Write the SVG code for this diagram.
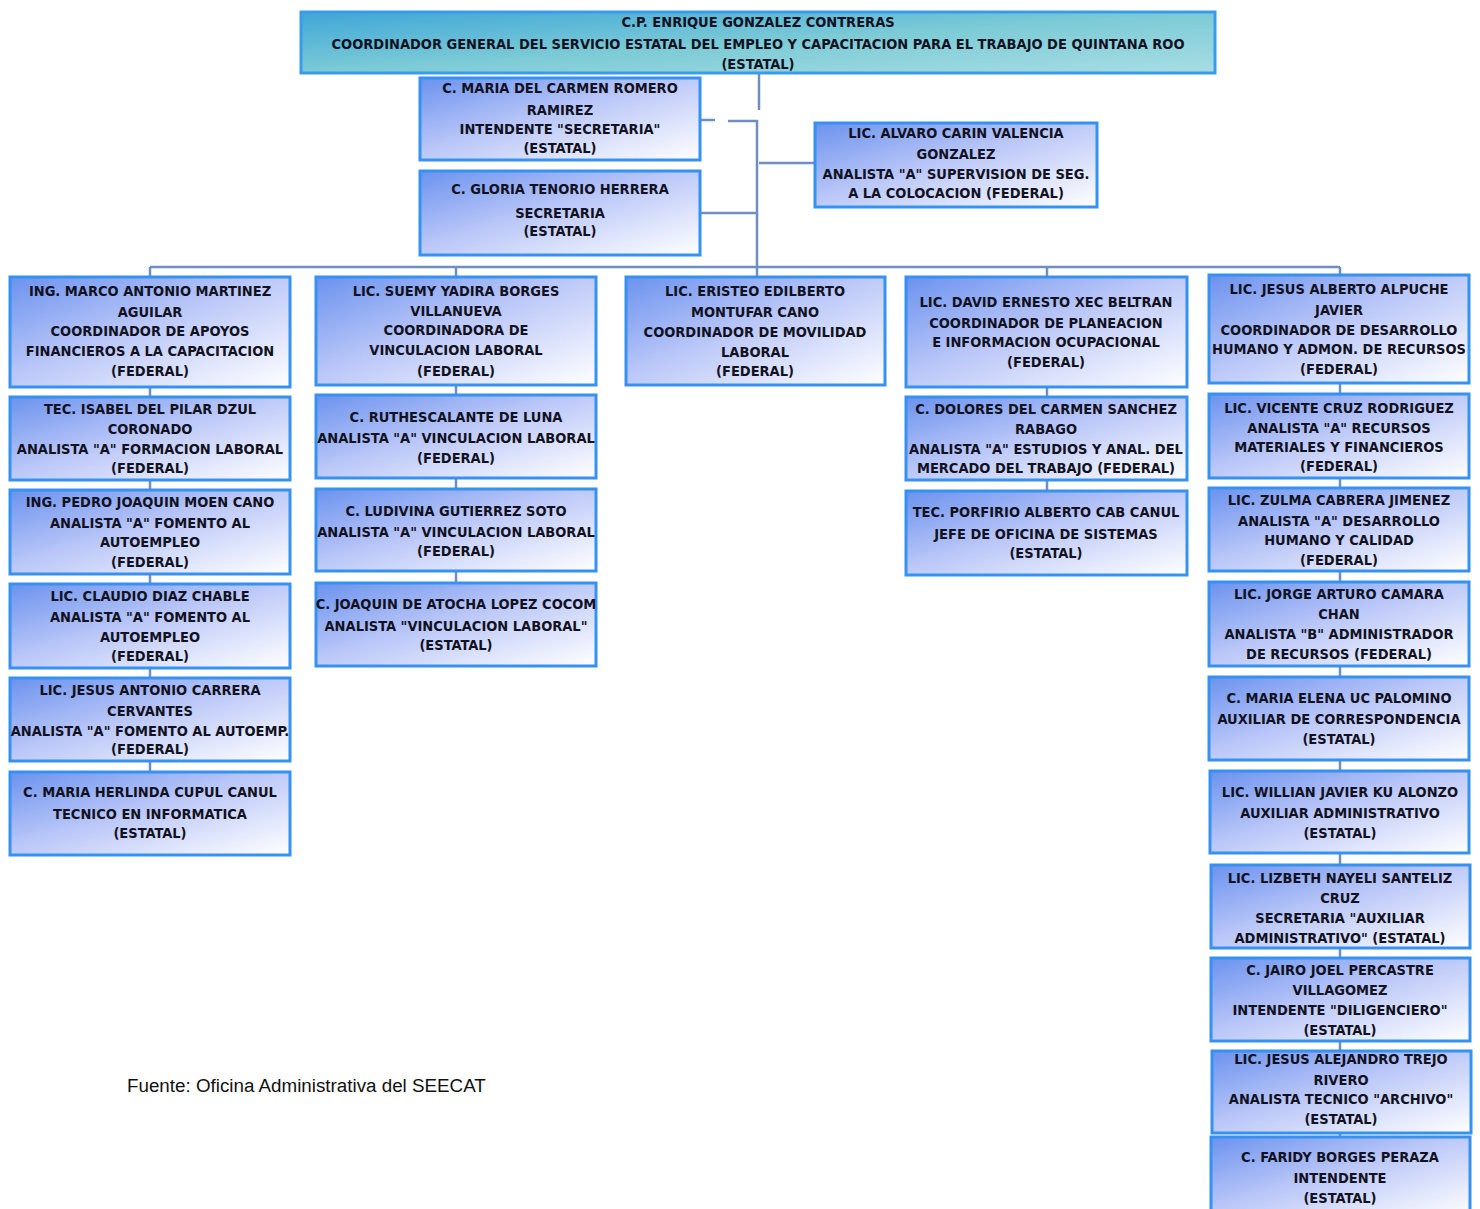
<svg xmlns="http://www.w3.org/2000/svg" width="1480" height="1209" viewBox="0 0 1480 1209">
<defs>
<linearGradient id="gb" x1="0" y1="0" x2="1" y2="1">
<stop offset="0" stop-color="#6b92ee"/>
<stop offset="0.45" stop-color="#b9c6f8"/>
<stop offset="1" stop-color="#ffffff"/>
</linearGradient>
<linearGradient id="gt" x1="0" y1="0" x2="1" y2="1">
<stop offset="0" stop-color="#3fa6d8"/>
<stop offset="0.5" stop-color="#7ccbd6"/>
<stop offset="1" stop-color="#a8dde4"/>
</linearGradient>
<style>
.box{fill:url(#gb);stroke:#3592f2;stroke-width:3}
.top{fill:url(#gt);stroke:#3a9be8;stroke-width:3}
.t{font-family:"Liberation Sans Narrow","DejaVu Sans Condensed","DejaVu Sans",sans-serif;font-weight:bold;font-size:14.5px;fill:#111122;text-anchor:middle}
.c{stroke:#6f8fc2;stroke-width:2.5;fill:none}
.src{font-family:"Liberation Sans",Arial,sans-serif;font-size:18.8px;fill:#111}
</style>
</defs>
<rect width="1480" height="1209" fill="#fff"/>
<g id="connectors">
<path class="c" d="M759 73V110M757 120V267M700 120H715M728 121H758M759 163H815M700 213H757"/>
<path class="c" d="M150 267H1340M150 267V277M456 267V277M757 267V277M1047 267V277M1340 267V275"/>
<path class="c" d="M150 387V397M150 480V490M150 574V584M150 668V678M150 761V772"/>
<path class="c" d="M456 385V395M456 478V489M456 571V583"/>
<path class="c" d="M1047 387V397M1047 480V491"/>
<path class="c" d="M1340 383V394M1340 478V488M1340 571V582M1340 666V677M1340 760V771M1340 853V865M1340 948V958M1340 1041V1050M1340 1133V1136"/>
</g>
<g id="n0"><rect class="top" x="301" y="12" width="914" height="61"/>
<text class="t"><tspan x="758" y="27">C.P. ENRIQUE GONZALEZ CONTRERAS</tspan><tspan x="758" y="49">COORDINADOR GENERAL DEL SERVICIO ESTATAL DEL EMPLEO Y CAPACITACION PARA EL TRABAJO DE QUINTANA ROO</tspan><tspan x="758" y="69">(ESTATAL)</tspan></text></g>
<g id="n1"><rect class="box" x="420" y="78" width="280" height="82"/>
<text class="t"><tspan x="560" y="93">C. MARIA DEL CARMEN ROMERO</tspan><tspan x="560" y="115">RAMIREZ</tspan><tspan x="560" y="134">INTENDENTE "SECRETARIA"</tspan><tspan x="560" y="153">(ESTATAL)</tspan></text></g>
<g id="n2"><rect class="box" x="420" y="171" width="280" height="84"/>
<text class="t"><tspan x="560" y="194">C. GLORIA TENORIO HERRERA</tspan><tspan x="560" y="218">SECRETARIA</tspan><tspan x="560" y="236">(ESTATAL)</tspan></text></g>
<g id="n3"><rect class="box" x="815" y="123" width="282" height="84"/>
<text class="t"><tspan x="956" y="138">LIC. ALVARO CARIN VALENCIA</tspan><tspan x="956" y="159">GONZALEZ</tspan><tspan x="956" y="179">ANALISTA "A" SUPERVISION DE SEG.</tspan><tspan x="956" y="198">A LA COLOCACION (FEDERAL)</tspan></text></g>
<g id="n4"><rect class="box" x="10" y="277" width="280" height="110"/>
<text class="t"><tspan x="150" y="296">ING. MARCO ANTONIO MARTINEZ</tspan><tspan x="150" y="317">AGUILAR</tspan><tspan x="150" y="336">COORDINADOR DE APOYOS</tspan><tspan x="150" y="356">FINANCIEROS A LA CAPACITACION</tspan><tspan x="150" y="376">(FEDERAL)</tspan></text></g>
<g id="n5"><rect class="box" x="10" y="397" width="280" height="83"/>
<text class="t"><tspan x="150" y="414">TEC. ISABEL DEL PILAR DZUL</tspan><tspan x="150" y="434">CORONADO</tspan><tspan x="150" y="454">ANALISTA "A" FORMACION LABORAL</tspan><tspan x="150" y="473">(FEDERAL)</tspan></text></g>
<g id="n6"><rect class="box" x="10" y="490" width="280" height="84"/>
<text class="t"><tspan x="150" y="507">ING. PEDRO JOAQUIN MOEN CANO</tspan><tspan x="150" y="528">ANALISTA "A" FOMENTO AL</tspan><tspan x="150" y="547">AUTOEMPLEO</tspan><tspan x="150" y="567">(FEDERAL)</tspan></text></g>
<g id="n7"><rect class="box" x="10" y="584" width="280" height="84"/>
<text class="t"><tspan x="150" y="601">LIC. CLAUDIO DIAZ CHABLE</tspan><tspan x="150" y="622">ANALISTA "A" FOMENTO AL</tspan><tspan x="150" y="642">AUTOEMPLEO</tspan><tspan x="150" y="661">(FEDERAL)</tspan></text></g>
<g id="n8"><rect class="box" x="10" y="678" width="280" height="83"/>
<text class="t"><tspan x="150" y="695">LIC. JESUS ANTONIO CARRERA</tspan><tspan x="150" y="716">CERVANTES</tspan><tspan x="150" y="736">ANALISTA "A" FOMENTO AL AUTOEMP.</tspan><tspan x="150" y="754">(FEDERAL)</tspan></text></g>
<g id="n9"><rect class="box" x="10" y="772" width="280" height="83"/>
<text class="t"><tspan x="150" y="797">C. MARIA HERLINDA CUPUL CANUL</tspan><tspan x="150" y="819">TECNICO EN INFORMATICA</tspan><tspan x="150" y="838">(ESTATAL)</tspan></text></g>
<g id="n10"><rect class="box" x="316" y="277" width="280" height="108"/>
<text class="t"><tspan x="456" y="296">LIC. SUEMY YADIRA BORGES</tspan><tspan x="456" y="316">VILLANUEVA</tspan><tspan x="456" y="335">COORDINADORA DE</tspan><tspan x="456" y="355">VINCULACION LABORAL</tspan><tspan x="456" y="376">(FEDERAL)</tspan></text></g>
<g id="n11"><rect class="box" x="316" y="395" width="280" height="83"/>
<text class="t"><tspan x="456" y="422">C. RUTHESCALANTE DE LUNA</tspan><tspan x="456" y="443">ANALISTA "A" VINCULACION LABORAL</tspan><tspan x="456" y="463">(FEDERAL)</tspan></text></g>
<g id="n12"><rect class="box" x="316" y="489" width="280" height="82"/>
<text class="t"><tspan x="456" y="516">C. LUDIVINA GUTIERREZ SOTO</tspan><tspan x="456" y="537">ANALISTA "A" VINCULACION LABORAL</tspan><tspan x="456" y="556">(FEDERAL)</tspan></text></g>
<g id="n13"><rect class="box" x="316" y="583" width="280" height="83"/>
<text class="t"><tspan x="456" y="609">C. JOAQUIN DE ATOCHA LOPEZ COCOM</tspan><tspan x="456" y="631">ANALISTA "VINCULACION LABORAL"</tspan><tspan x="456" y="650">(ESTATAL)</tspan></text></g>
<g id="n14"><rect class="box" x="626" y="277" width="259" height="108"/>
<text class="t"><tspan x="755" y="296">LIC. ERISTEO EDILBERTO</tspan><tspan x="755" y="317">MONTUFAR CANO</tspan><tspan x="755" y="337">COORDINADOR DE MOVILIDAD</tspan><tspan x="755" y="357">LABORAL</tspan><tspan x="755" y="376">(FEDERAL)</tspan></text></g>
<g id="n15"><rect class="box" x="906" y="277" width="281" height="110"/>
<text class="t"><tspan x="1046" y="307">LIC. DAVID ERNESTO XEC BELTRAN</tspan><tspan x="1046" y="328">COORDINADOR DE PLANEACION</tspan><tspan x="1046" y="347">E INFORMACION OCUPACIONAL</tspan><tspan x="1046" y="367">(FEDERAL)</tspan></text></g>
<g id="n16"><rect class="box" x="906" y="397" width="281" height="83"/>
<text class="t"><tspan x="1046" y="414">C. DOLORES DEL CARMEN SANCHEZ</tspan><tspan x="1046" y="434">RABAGO</tspan><tspan x="1046" y="454">ANALISTA "A" ESTUDIOS Y ANAL. DEL</tspan><tspan x="1046" y="473">MERCADO DEL TRABAJO (FEDERAL)</tspan></text></g>
<g id="n17"><rect class="box" x="906" y="491" width="281" height="84"/>
<text class="t"><tspan x="1046" y="517">TEC. PORFIRIO ALBERTO CAB CANUL</tspan><tspan x="1046" y="539">JEFE DE OFICINA DE SISTEMAS</tspan><tspan x="1046" y="558">(ESTATAL)</tspan></text></g>
<g id="n18"><rect class="box" x="1209" y="275" width="260" height="108"/>
<text class="t"><tspan x="1339" y="294">LIC. JESUS ALBERTO ALPUCHE</tspan><tspan x="1339" y="315">JAVIER</tspan><tspan x="1339" y="335">COORDINADOR DE DESARROLLO</tspan><tspan x="1339" y="354">HUMANO Y ADMON. DE RECURSOS</tspan><tspan x="1339" y="374">(FEDERAL)</tspan></text></g>
<g id="n19"><rect class="box" x="1209" y="394" width="260" height="84"/>
<text class="t"><tspan x="1339" y="413">LIC. VICENTE CRUZ RODRIGUEZ</tspan><tspan x="1339" y="433">ANALISTA "A" RECURSOS</tspan><tspan x="1339" y="452">MATERIALES Y FINANCIEROS</tspan><tspan x="1339" y="471">(FEDERAL)</tspan></text></g>
<g id="n20"><rect class="box" x="1209" y="488" width="260" height="83"/>
<text class="t"><tspan x="1339" y="505">LIC. ZULMA CABRERA JIMENEZ</tspan><tspan x="1339" y="526">ANALISTA "A" DESARROLLO</tspan><tspan x="1339" y="545">HUMANO Y CALIDAD</tspan><tspan x="1339" y="565">(FEDERAL)</tspan></text></g>
<g id="n21"><rect class="box" x="1209" y="582" width="260" height="84"/>
<text class="t"><tspan x="1339" y="599">LIC. JORGE ARTURO CAMARA</tspan><tspan x="1339" y="619">CHAN</tspan><tspan x="1339" y="639">ANALISTA "B" ADMINISTRADOR</tspan><tspan x="1339" y="659">DE RECURSOS (FEDERAL)</tspan></text></g>
<g id="n22"><rect class="box" x="1209" y="677" width="260" height="83"/>
<text class="t"><tspan x="1339" y="703">C. MARIA ELENA UC PALOMINO</tspan><tspan x="1339" y="724">AUXILIAR DE CORRESPONDENCIA</tspan><tspan x="1339" y="744">(ESTATAL)</tspan></text></g>
<g id="n23"><rect class="box" x="1210" y="771" width="259" height="82"/>
<text class="t"><tspan x="1340" y="797">LIC. WILLIAN JAVIER KU ALONZO</tspan><tspan x="1340" y="818">AUXILIAR ADMINISTRATIVO</tspan><tspan x="1340" y="838">(ESTATAL)</tspan></text></g>
<g id="n24"><rect class="box" x="1211" y="865" width="259" height="83"/>
<text class="t"><tspan x="1340" y="883">LIC. LIZBETH NAYELI SANTELIZ</tspan><tspan x="1340" y="903">CRUZ</tspan><tspan x="1340" y="923">SECRETARIA "AUXILIAR</tspan><tspan x="1340" y="943">ADMINISTRATIVO" (ESTATAL)</tspan></text></g>
<g id="n25"><rect class="box" x="1211" y="958" width="259" height="83"/>
<text class="t"><tspan x="1340" y="975">C. JAIRO JOEL PERCASTRE</tspan><tspan x="1340" y="995">VILLAGOMEZ</tspan><tspan x="1340" y="1015">INTENDENTE "DILIGENCIERO"</tspan><tspan x="1340" y="1035">(ESTATAL)</tspan></text></g>
<g id="n26"><rect class="box" x="1212" y="1051" width="259" height="82"/>
<text class="t"><tspan x="1341" y="1064">LIC. JESUS ALEJANDRO TREJO</tspan><tspan x="1341" y="1085">RIVERO</tspan><tspan x="1341" y="1104">ANALISTA TECNICO "ARCHIVO"</tspan><tspan x="1341" y="1124">(ESTATAL)</tspan></text></g>
<g id="n27"><rect class="box" x="1211" y="1137" width="259" height="80"/>
<text class="t"><tspan x="1340" y="1162">C. FARIDY BORGES PERAZA</tspan><tspan x="1340" y="1183">INTENDENTE</tspan><tspan x="1340" y="1203">(ESTATAL)</tspan></text></g>
<text class="src" x="127" y="1092">Fuente: Oficina Administrativa del SEECAT</text>
</svg>
